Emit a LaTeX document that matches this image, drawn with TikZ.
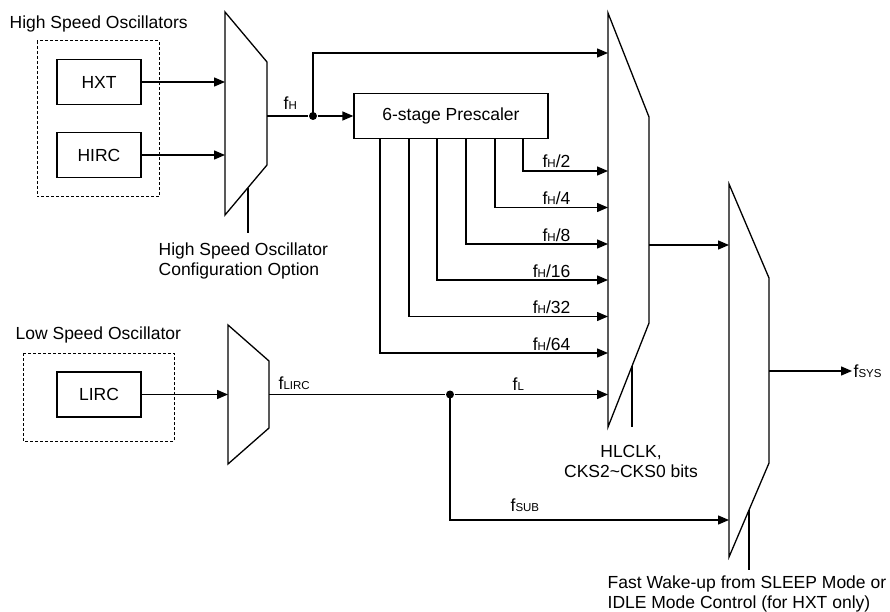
\documentclass[tikz,border=0pt]{standalone}
\usepackage{fontspec}
\setmainfont{Liberation Sans}
\usetikzlibrary{arrows.meta}
\newcommand{\fsb}[1]{f{\fontsize{11.5}{12}\selectfont #1}}
\begin{document}
\begin{tikzpicture}[x=1pt,y=-1pt, line width=1.3pt,
  every node/.style={font=\fontsize{17.5}{20}\selectfont, inner sep=0pt},
  box/.style={draw, line width=1.3pt, minimum width=84pt, minimum height=45pt},
  grp/.style={draw, line width=1pt, dash pattern=on 3pt off 2pt},
  arr/.style={-{Triangle[length=11pt,width=9pt]}},
  jdot/.style={circle, fill, minimum size=8pt, inner sep=0pt},
  mux/.style={draw, line width=1.3pt, line join=miter}]
\useasboundingbox (0,0) rectangle (890,612);

% group outlines
\draw[grp] (37,41) rectangle (159,197);
\draw[grp] (23,353) rectangle (174,441);
\node[anchor=base west] (hsolbl) at (9,29) {High Speed Oscillators};
\node[anchor=base west] (lsolbl) at (15,339) {Low Speed Oscillator};

% oscillator boxes
\node[box] (hxt) at (99,82) {HXT};
\node[box] (hirc) at (99,155) {HIRC};
\node[box] (lirc) at (99,394.5) {LIRC};
\node[box, minimum width=194pt] (pre) at (451,116) {6-stage Prescaler};

% multiplexers
\draw[mux] (225,12) -- (267,62) -- (267,165) -- (225,215) -- cycle;
\draw[mux] (608,13) -- (649,117) -- (649,323) -- (608,427) -- cycle;
\draw[mux] (228,325) -- (269,361) -- (269,428) -- (228,464) -- cycle;
\draw[mux] (729,184) -- (769,278) -- (769,463) -- (729,557) -- cycle;

% mux pins
\coordinate (m1L) at (225,0);
\coordinate (m1out) at (267,116);
\coordinate (m2L) at (608,0);
\coordinate (m2out) at (649,245);
\coordinate (m3L) at (228,0);
\coordinate (m3out) at (269,394.5);
\coordinate (m4in1) at (729,245);
\coordinate (m4in2) at (729,520);
\coordinate (m4out) at (769,371);
\coordinate (sysend) at (852,371);

% control lines
\coordinate (c1a) at (248,187.6);
\coordinate (c1b) at (248,233);
\coordinate (c2a) at (632,366);
\coordinate (c2b) at (632,427);
\coordinate (c4a) at (749,510);
\coordinate (c4b) at (749,570);
\draw (c1a) -- (c1b);
\draw (c2a) -- (c2b);
\draw (c4a) -- (c4b);

% inputs to mux 1 and 3
\draw[arr] (hxt.east) -- (hxt.east -| m1L);
\draw[arr] (hirc.east) -- (hirc.east -| m1L);
\draw[arr] (lirc.east) -- (lirc.east -| m3L);

% fH
\node[jdot] (hdot) at (313,116) {};
\draw (m1out) -- (hdot);
\draw[arr] (hdot) -- (pre.west);
\coordinate (hup) at (313,53);
\draw[arr] (hdot.center) -- (hup) -- (hup -| m2L);
\node[anchor=base west] (fhlbl) at (283,110) {\fsb{H}};

% prescaler taps
\foreach \x/\y/\t/\n in {523/171/2/a, 495/207.5/4/b, 466/244/8/c, 437/280/16/d, 409/316.5/32/e, 380/353/64/f}{
  \coordinate (tap\n) at (\x,\y);
  \draw[arr] (pre.south -| tap\n) -- (tap\n) -- (tap\n -| m2L);
  \node[anchor=base east] (tl\n) at (571,\y-3) {\fsb{H}/\t};
}

% fL / fSUB
\node[jdot] (ldot) at (450,394.5) {};
\draw (m3out) -- (ldot);
\draw[arr] (ldot) -- (ldot -| m2L);
\coordinate (subc) at (450,520);
\draw[arr] (ldot.center) -- (subc) -- (m4in2);
\node[anchor=base west] (flirclbl) at (278,389) {\fsb{LIRC}};
\node[anchor=base west] (fllbl) at (512,390) {\fsb{L}};
\node[anchor=base west] (fsublbl) at (510,511) {\fsb{SUB}};

% mux2 -> mux4 -> fSYS
\draw[arr] (m2out) -- (m4in1);
\draw[arr] (m4out) -- (sysend);
\node[anchor=west] (fsyslbl) at (853,371) {\fsb{SYS}};

% control labels
\node[anchor=north west, align=left] (c1lbl) at (158,242) {High Speed Oscillator\\Configuration Option};
\node[anchor=north, align=center] (c2lbl) at (631,445) {HLCLK,\\CKS2\textasciitilde CKS0 bits};
\node[anchor=north west, align=left] (c4lbl) at (607,575) {Fast Wake-up from SLEEP Mode or\\IDLE Mode Control (for HXT only)};
\end{tikzpicture}
\end{document}
